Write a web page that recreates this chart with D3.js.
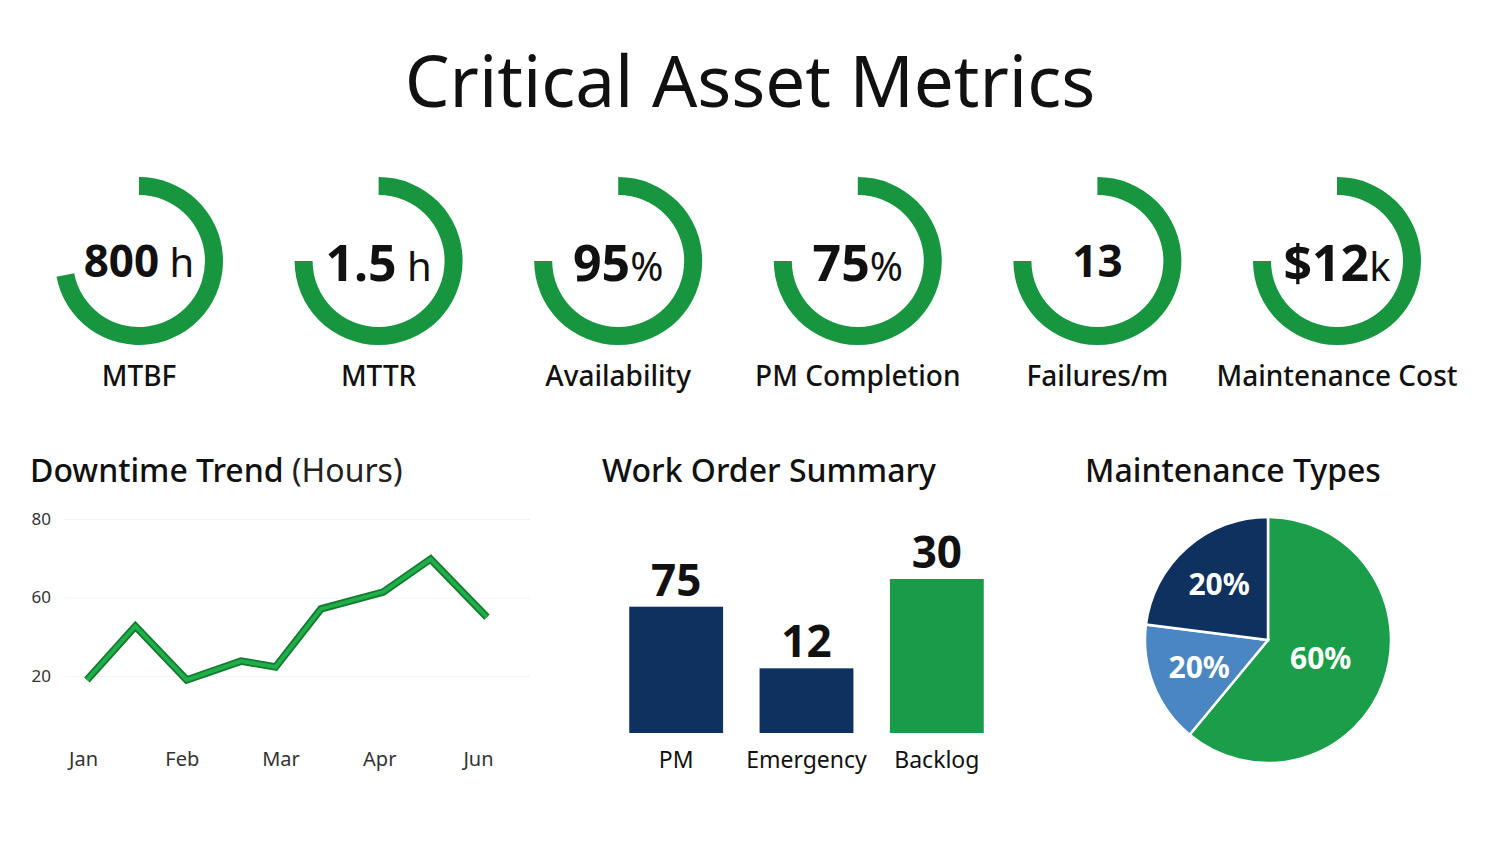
<!DOCTYPE html>
<html>
<head>
<meta charset="utf-8">
<script src="https://cdn.jsdelivr.net/npm/d3@7/dist/d3.min.js"></script>
<style>
  body { margin: 0; background: #fff; }
  svg { display: block; font-family: "Noto Sans", "Open Sans", sans-serif; }
</style>
</head>
<body>
<svg id="chart" width="1500" height="844"></svg>
<script>
// gauges
const gaugeValues = ["800", "1.5", "95", "75", "13", "$12"];
const gaugeUnits = [" h", " h", "%", "%", "", "k"];
const gaugeLabels = ["MTBF", "MTTR", "Availability", "PM Completion", "Failures/m", "Maintenance Cost"];
const gaugeFill = [0.72, 0.75, 0.75, 0.75, 0.75, 0.75];

// downtime trend
const monthLabels = ["Jan", "Feb", "Mar", "Apr", "Jun"];
const yTickLabels = ["80", "60", "20"];
const trendX = [0.04, 0.53, 1.05, 1.6, 1.95, 2.41, 3.04, 3.52, 4.09];
const trendY = [39, 52.7, 39, 43.8, 42.3, 57.1, 61.4, 69.8, 55];

// work orders
const woCategories = ["PM", "Emergency", "Backlog"];
const woCounts = [75, 12, 30];
const woBarLevel = [41, 21, 50];

// maintenance types
const pieShares = [61, 16, 23];
const pieLabels = ["60%", "20%", "20%"];

const green = "#17963f";
const navy = "#0f3160";
const lightBlue = "#4a86c1";

const svg = d3.select("#chart");
svg.append("rect").attr("width", 1500).attr("height", 844).attr("fill", "#fff");

svg.append("text")
  .attr("x", 750).attr("y", 107)
  .attr("text-anchor", "middle")
  .attr("font-size", 71)
  .attr("fill", "#111")
  .text("Critical Asset Metrics");

// ---- gauges
const gx = d3.scalePoint().domain(d3.range(gaugeLabels.length)).range([139, 1337]);
const gaugeArc = d3.arc().innerRadius(66).outerRadius(84).startAngle(0);

const g = svg.selectAll(".gauge")
  .data(gaugeLabels.map((l, i) => ({label: l, value: gaugeValues[i], unit: gaugeUnits[i], fill: gaugeFill[i], i: i})))
  .enter()
  .append("g").attr("class", "gauge")
  .attr("transform", d => `translate(${gx(d.i)},261)`);

g.append("path")
  .attr("d", d => gaugeArc({endAngle: d.fill * 2 * Math.PI}))
  .attr("fill", green);

const vt = g.append("text")
  .attr("y", d => (d.value == "800" || d.value == "13") ? 16 : 20)
  .attr("text-anchor", "middle")
  .attr("fill", "#111");
vt.append("tspan")
  .attr("font-weight", 700)
  .attr("font-size", d => (d.value == "800" || d.value == "13") ? 44 : 50)
  .text(d => d.value);
vt.append("tspan")
  .attr("font-weight", 400)
  .attr("font-size", 40)
  .text(d => d.unit);

g.append("text")
  .attr("y", 125)
  .attr("text-anchor", "middle")
  .attr("font-size", 28)
  .attr("font-weight", 500)
  .attr("fill", "#111")
  .text(d => d.label);

// ---- downtime trend
const title1 = svg.append("text").attr("x", 30).attr("y", 482).attr("font-size", 32).attr("fill", "#111");
title1.append("tspan").attr("font-weight", 500).text("Downtime Trend ");
title1.append("tspan").attr("font-weight", 400).attr("fill", "#222").text("(Hours)");

const x = d3.scaleLinear().domain([0, 4]).range([83, 478]);
const y = d3.scaleLinear().domain([40, 80]).range([676, 519]);

const yAxis = svg.append("g")
  .attr("transform", "translate(65,0)")
  .call(d3.axisLeft(y).tickValues([80, 60, 40]).tickSize(-465).tickPadding(14)
    .tickFormat((d, i) => yTickLabels[i]));
yAxis.select(".domain").remove();
yAxis.selectAll("line").attr("stroke", "#f3f3f3");
yAxis.selectAll("text").attr("font-size", 17).attr("fill", "#333").attr("font-family", "Noto Sans");

const xAxis = svg.append("g")
  .attr("transform", "translate(0,752)")
  .call(d3.axisBottom(x).tickValues(d3.range(monthLabels.length)).tickSize(0).tickPadding(0)
    .tickFormat((d, i) => monthLabels[i]));
xAxis.select(".domain").remove();
xAxis.selectAll("text").attr("font-size", 20).attr("fill", "#333").attr("font-family", "Noto Sans");

const trend = trendX.map((t, i) => [t, trendY[i]]);
const line = d3.line().x(d => x(d[0])).y(d => y(d[1]));
svg.append("path").datum(trend).attr("d", line)
  .attr("fill", "none").attr("stroke", "#127a2f").attr("stroke-width", 7.5);
svg.append("path").datum(trend).attr("d", line)
  .attr("fill", "none").attr("stroke", "#1fae48").attr("stroke-width", 4);

// ---- work order summary
svg.append("text")
  .attr("x", 769).attr("y", 482)
  .attr("text-anchor", "middle")
  .attr("font-size", 32).attr("font-weight", 500).attr("fill", "#111")
  .text("Work Order Summary");

const bx = d3.scaleBand().domain(woCategories).range([611, 1002]).paddingInner(0.28).paddingOuter(0.14);
const by = d3.scaleLinear().domain([0, 50]).range([733, 579]);

svg.selectAll(".bar")
  .data(woCategories)
  .enter()
  .append("rect").attr("class", "bar")
  .attr("x", d => bx(d))
  .attr("width", bx.bandwidth())
  .attr("y", (d, i) => by(woBarLevel[i]))
  .attr("height", (d, i) => by(0) - by(woBarLevel[i]))
  .attr("fill", (d, i) => i == 2 ? "#1a9b4a" : navy);

svg.selectAll(".barval")
  .data(woCategories)
  .enter()
  .append("text").attr("class", "barval")
  .attr("x", d => bx(d) + bx.bandwidth() / 2)
  .attr("y", (d, i) => by(woBarLevel[i]) - 11)
  .attr("text-anchor", "middle")
  .attr("font-size", 44).attr("font-weight", 700).attr("fill", "#111")
  .text((d, i) => woCounts[i]);

svg.selectAll(".barcat")
  .data(woCategories)
  .enter()
  .append("text").attr("class", "barcat")
  .attr("x", d => bx(d) + bx.bandwidth() / 2)
  .attr("y", 768)
  .attr("text-anchor", "middle")
  .attr("font-size", 23).attr("fill", "#111")
  .text(d => d);

// ---- maintenance types
svg.append("text")
  .attr("x", 1233).attr("y", 482)
  .attr("text-anchor", "middle")
  .attr("font-size", 32).attr("font-weight", 500).attr("fill", "#111")
  .text("Maintenance Types");

const pieColors = ["#1a9e4a", lightBlue, navy];
const pie = d3.pie().sort(null)(pieShares);
const pieArc = d3.arc().innerRadius(0).outerRadius(123);
const pg = svg.append("g").attr("transform", "translate(1268,640)");

pg.selectAll("path")
  .data(pie)
  .enter()
  .append("path")
  .attr("d", pieArc)
  .attr("fill", (d, i) => pieColors[i])
  .attr("stroke", "#fff").attr("stroke-width", 2.5);

pg.selectAll("text")
  .data(pie)
  .enter()
  .append("text")
  .attr("transform", d => {
    const r = d.data > 50 ? 56 : 74;
    const c = d3.arc().innerRadius(r).outerRadius(r).centroid(d);
    return `translate(${c[0]},${c[1]})`;
  })
  .attr("dy", "0.35em")
  .attr("text-anchor", "middle")
  .attr("font-size", 30).attr("font-weight", 700).attr("fill", "#fff")
  .text((d, i) => pieLabels[i]);
</script>
</body>
</html>
